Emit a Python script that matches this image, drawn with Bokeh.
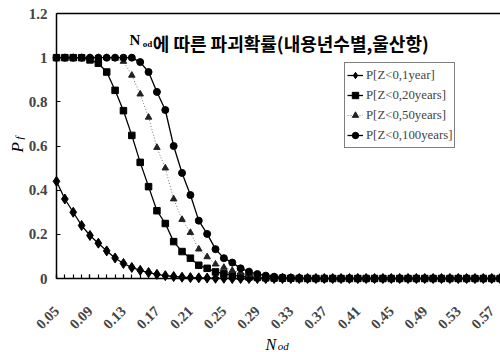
from bokeh.plotting import figure
from bokeh.models import (FixedTicker, CustomJSTickFormatter, Legend, LegendItem, Label,
                          Range1d, LinearAxis)
from bokeh.embed import file_html
from bokeh.resources import INLINE
from math import pi

nod = ["0.05", "0.06", "0.07", "0.08", "0.09", "0.10", "0.11", "0.12", "0.13", "0.14",
       "0.15", "0.16", "0.17", "0.18", "0.19", "0.20", "0.21", "0.22", "0.23", "0.24",
       "0.25", "0.26", "0.27", "0.28", "0.29", "0.30", "0.31", "0.32", "0.33", "0.34",
       "0.35", "0.36", "0.37", "0.38", "0.39", "0.40", "0.41", "0.42", "0.43", "0.44",
       "0.45", "0.46", "0.47", "0.48", "0.49", "0.50", "0.51", "0.52", "0.53", "0.54",
       "0.55", "0.56", "0.57", "0.58", "0.59", "0.60"]

p_1yr = [0.44, 0.36, 0.30, 0.24, 0.195, 0.16, 0.125, 0.093, 0.068, 0.05,
         0.037, 0.027, 0.019, 0.013, 0.009, 0.006, 0.004, 0.003, 0.002, 0.001,
         0.001, 0, 0, 0, 0, 0, 0, 0, 0, 0,
         0, 0, 0, 0, 0, 0, 0, 0, 0, 0,
         0, 0, 0, 0, 0, 0, 0, 0, 0, 0,
         0, 0, 0, 0, 0, 0]
p_20yr = [1, 1, 1, 1, 0.99, 0.975, 0.935, 0.852, 0.76, 0.648,
          0.526, 0.416, 0.307, 0.249, 0.167, 0.122, 0.092, 0.06, 0.046, 0.03,
          0.022, 0.015, 0.01, 0.007, 0.005, 0.003, 0.002, 0.001, 0.001, 0,
          0, 0, 0, 0, 0, 0, 0, 0, 0, 0,
          0, 0, 0, 0, 0, 0, 0, 0, 0, 0,
          0, 0, 0, 0, 0, 0]
p_50yr = [1, 1, 1, 1, 1, 1, 1, 0.997, 0.983, 0.92,
          0.835, 0.73, 0.593, 0.5, 0.36, 0.267, 0.208, 0.133, 0.098, 0.065,
          0.05, 0.036, 0.026, 0.018, 0.012, 0.008, 0.005, 0.003, 0.002, 0.001,
          0, 0, 0, 0, 0, 0, 0, 0, 0, 0,
          0, 0, 0, 0, 0, 0, 0, 0, 0, 0,
          0, 0, 0, 0, 0, 0]
p_100yr = [1, 1, 1, 1, 1, 1, 1, 1, 1, 1,
           0.98, 0.935, 0.845, 0.763, 0.6, 0.478, 0.378, 0.262, 0.202, 0.133,
           0.092, 0.072, 0.046, 0.031, 0.02, 0.013, 0.008, 0.005, 0.003, 0.002,
           0.001, 0, 0, 0, 0, 0, 0, 0, 0, 0,
           0, 0, 0, 0, 0, 0, 0, 0, 0, 0,
           0, 0, 0, 0, 0, 0]

series_names = ["P[Z<0,1year]", "P[Z<0,20years]", "P[Z<0,50years]", "P[Z<0,100years]"]
y_ticks = [0, 0.2, 0.4, 0.6, 0.8, 1.0, 1.2]
label_every = 4
x_max = 53.05
y_max = 1.2

x = list(range(len(nod)))

SERIF = "Liberation Serif"

# the frame covers the whole canvas; axes are pinned at x=0 / y=0 so that the
# axis titles can sit in the margin area as ordinary labels
p = figure(width=500, height=352, output_backend="svg", toolbar_location=None,
           x_range=Range1d(-6.69, x_max), y_range=Range1d(-0.3351, 1.2589),
           min_border=0, min_border_left=0, min_border_right=0,
           min_border_top=0, min_border_bottom=0)
p.outline_line_color = None
p.xgrid.visible = False
p.ygrid.visible = False
p.background_fill_color = "white"
p.border_fill_color = "white"

# axes
xa = p.xaxis[0]
xa.fixed_location = 0
xa.bounds = (0, x_max)
xa.ticker = FixedTicker(ticks=x[::label_every], minor_ticks=x)
xa.major_label_overrides = {i: nod[i] for i in x[::label_every]}
xa.major_label_orientation = pi / 4
xa.major_label_text_font = SERIF
xa.major_label_text_font_style = "bold"
xa.major_label_text_font_size = "14.5px"
xa.major_label_standoff = 30
xa.major_tick_in = 4
xa.major_tick_out = 0
xa.minor_tick_in = 4
xa.minor_tick_out = 0
xa.axis_line_width = 1.5
xa.major_tick_line_width = 1.2
xa.minor_tick_line_width = 1.2

ya = p.yaxis[0]
ya.fixed_location = 0
ya.bounds = (0, y_max)
ya.ticker = FixedTicker(ticks=y_ticks)
ya.formatter = CustomJSTickFormatter(code="return (Math.round(tick*10)/10).toString();")
ya.major_label_text_font = SERIF
ya.major_label_text_font_style = "bold"
ya.major_label_text_font_size = "15px"
ya.major_label_standoff = 9
ya.major_tick_in = 4
ya.major_tick_out = 0
ya.minor_tick_line_color = None
ya.axis_line_width = 1.5

top = LinearAxis(fixed_location=y_max, bounds=(0, x_max), ticker=FixedTicker(ticks=[]),
                 major_label_text_font_size="0px", axis_line_width=1.5,
                 major_tick_line_color=None, minor_tick_line_color=None)
p.add_layout(top, "above")

# series
l1 = p.line(x, p_1yr, line_color="black", line_width=1.3)
m1 = p.scatter(x, p_1yr, marker="diamond", size=10, color="black")
l2 = p.line(x, p_20yr, line_color="black", line_width=1.3)
m2 = p.scatter(x, p_20yr, marker="square", size=6.5, color="black")
l3 = p.line(x, p_50yr, line_color="#777777", line_width=1, line_dash="1 2")
m3 = p.scatter(x, p_50yr, marker="triangle", size=6.5, color="#222222")
l4 = p.line(x, p_100yr, line_color="black", line_width=1.3)
m4 = p.scatter(x, p_100yr, marker="circle", size=7, color="black")

legend = Legend(items=[
    LegendItem(label=series_names[0], renderers=[l1, m1]),
    LegendItem(label=series_names[1], renderers=[l2, m2]),
    LegendItem(label=series_names[2], renderers=[l3, m3]),
    LegendItem(label=series_names[3], renderers=[l4, m4]),
], location=(344, 204))
legend.label_text_font = SERIF
legend.label_text_font_size = "12.8px"
legend.label_standoff = 3
legend.glyph_width = 16
legend.glyph_height = 20
legend.label_height = 20
legend.spacing = 0
legend.padding = 2
legend.margin = 0
legend.border_line_color = "black"
legend.border_line_width = 1
legend.background_fill_alpha = 1
p.add_layout(legend, "center")

# title
p.add_layout(Label(x=8.72, y=1.0778, text="N", text_font=SERIF, text_font_style="bold",
                   text_font_size="15px", text_color="black", text_baseline="alphabetic"))
p.add_layout(Label(x=10.3, y=1.064, text="od", text_font=SERIF, text_font_style="bold",
                   text_font_size="9px", text_color="black", text_baseline="alphabetic"))
p.add_layout(Label(x=11.5, y=1.068, text="에 따른 파괴확률(내용년수별,울산항)", text_font="Noto Sans CJK KR",
                   text_font_style="bold", text_font_size="18px", text_color="black",
                   text_baseline="alphabetic"))

# x axis title
p.add_layout(Label(x=24.97, y=-0.297, text="N", text_font=SERIF, text_font_style="italic",
                   text_font_size="16px", text_color="black", text_baseline="alphabetic"))
p.add_layout(Label(x=26.45, y=-0.306, text="od", text_font=SERIF, text_font_style="italic",
                   text_font_size="11px", text_color="black", text_baseline="alphabetic"))

# y axis title
p.add_layout(Label(x=-3.58, y=0.5706, text="P", angle=pi / 2, text_font=SERIF, text_font_style="italic",
                   text_font_size="17px", text_color="black"))
p.add_layout(Label(x=-3.82, y=0.6294, text="f", angle=pi / 2, text_font=SERIF, text_font_style="italic",
                   text_font_size="11px", text_color="black"))

open("out.html", "w").write(file_html(p, INLINE))
